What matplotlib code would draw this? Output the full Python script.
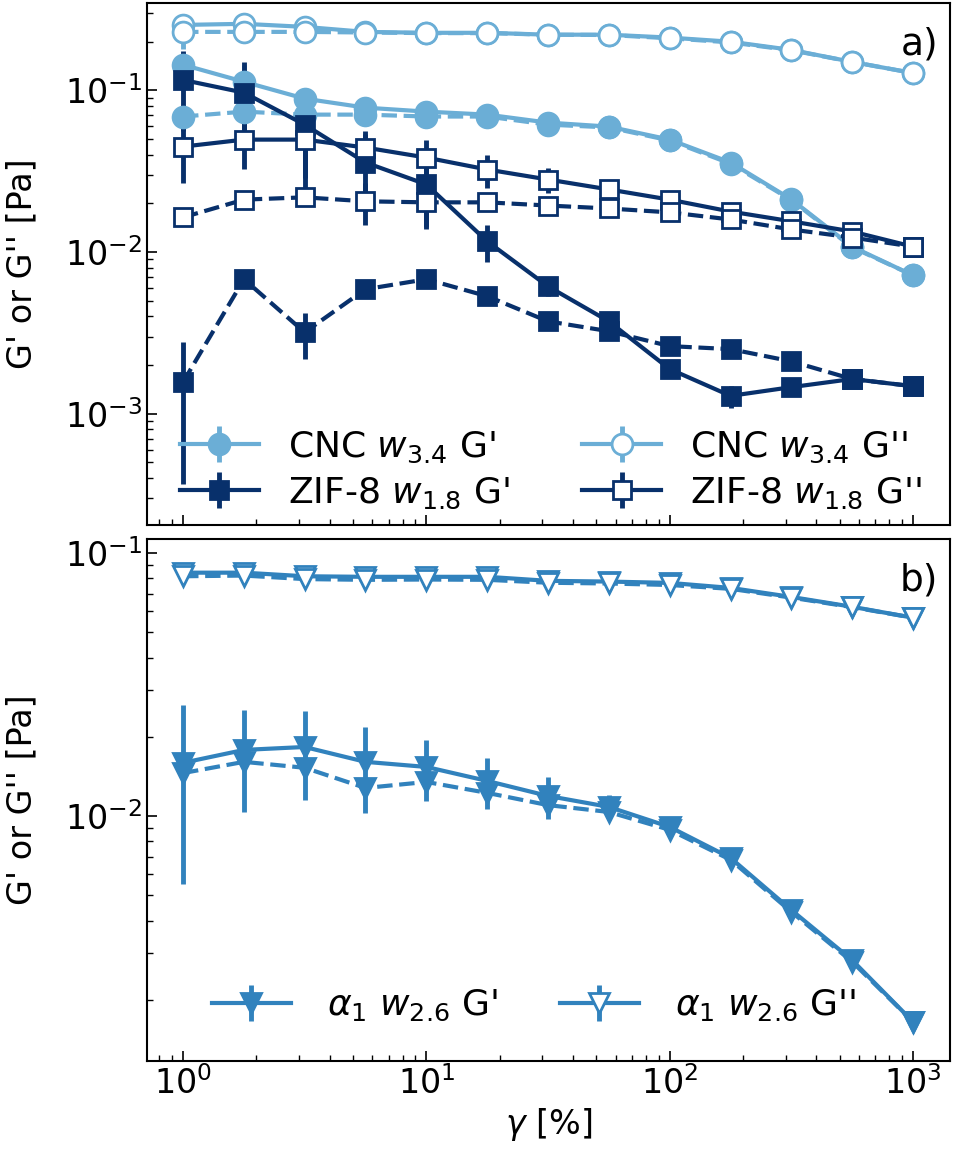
import numpy as np
import matplotlib.pyplot as plt

# strain amplitude [%]
gamma = [1, 1.78, 3.16, 5.62, 10, 17.8, 31.6, 56.2, 100, 178, 316, 562, 1000]

# panel a) CNC w3.4 (two runs: solid, dashed)
cnc_gp_1 = [0.144, 0.113, 0.0889, 0.0782, 0.0739, 0.0708, 0.0632, 0.0597, 0.0496, 0.0358, 0.0212, 0.0108, 0.00718]
cnc_gp_2 = [0.0689, 0.0739, 0.0708, 0.0708, 0.0689, 0.0689, 0.0614, 0.0590, 0.0490, 0.0352, 0.0210, 0.0107, 0.00718]
cnc_gpp_1 = [0.254, 0.258, 0.247, 0.230, 0.227, 0.227, 0.221, 0.221, 0.212, 0.200, 0.178, 0.150, 0.128]
cnc_gpp_2 = [0.230, 0.230, 0.230, 0.228, 0.226, 0.226, 0.221, 0.220, 0.210, 0.198, 0.177, 0.150, 0.128]
cnc_gp_1_err = [0.01, 0.03, 0.015, 0.006, 0.004, 0.003, 0.003, 0.002, 0.002, 0.002, 0.001, 0.0005, 0.0003]
cnc_gp_2_err = [0.005, 0.004, 0.004, 0.003, 0.003, 0.002, 0.002, 0.002, 0.002, 0.001, 0.001, 0.0005, 0.0003]
cnc_gpp_1_err = [0.01, 0.01, 0.008, 0.005, 0.005, 0.004, 0.004, 0.004, 0.003, 0.003, 0.003, 0.002, 0.002]
cnc_gpp_2_err = [0.05, 0.01, 0.008, 0.005, 0.005, 0.004, 0.004, 0.004, 0.003, 0.003, 0.003, 0.002, 0.002]

# panel a) ZIF-8 w1.8
zif_gp_1 = [0.116, 0.0968, 0.0614, 0.0358, 0.0262, 0.01164, 0.00614, 0.00373, 0.00189, 0.00129, 0.00146, 0.00164, 0.00148]
zif_gp_2 = [0.00157, 0.00679, 0.00319, 0.00589, 0.00679, 0.00533, 0.00373, 0.00324, 0.00262, 0.00251, 0.00211, 0.00164, 0.00148]
zif_gpp_1 = [0.0449, 0.0496, 0.0496, 0.0443, 0.0384, 0.0324, 0.0281, 0.0244, 0.0211, 0.0178, 0.0155, 0.0134, 0.0108]
zif_gpp_2 = [0.0164, 0.0211, 0.0218, 0.0206, 0.0203, 0.0203, 0.0194, 0.0186, 0.0176, 0.0159, 0.0138, 0.0123, 0.0108]
zif_gp_1_err = [0.06, 0.053, 0.04, 0.018, 0.012, 0.003, 0.0008, 0.0005, 0.0002, 0.0002, 0.0001, 0.0001, 0.0001]
zif_gp_2_err = [0.0012, 0.0004, 0.001, 0.0004, 0.0004, 0.0003, 0.0004, 0.0003, 0.0002, 0.0002, 0.0002, 0.0001, 0.0001]
zif_gpp_1_err = [0.018, 0.017, 0.021, 0.012, 0.011, 0.0075, 0.005, 0.002, 0.0015, 0.001, 0.001, 0.0008, 0.0005]
zif_gpp_2_err = [0.002, 0.002, 0.002, 0.006, 0.0065, 0.002, 0.002, 0.0015, 0.001, 0.001, 0.001, 0.0008, 0.0005]

# panel b) alpha1 w2.6
a1_gp_1 = [0.01592, 0.01782, 0.01828, 0.01605, 0.01535, 0.01358, 0.01191, 0.01082, 0.00908, 0.00692, 0.00439, 0.00283, 0.00165]
a1_gp_2 = [0.01455, 0.01605, 0.01524, 0.01277, 0.01346, 0.01223, 0.01099, 0.01035, 0.00885, 0.00681, 0.00432, 0.00279, 0.00165]
a1_gpp_1 = [0.0841, 0.0841, 0.0815, 0.0811, 0.0811, 0.0811, 0.0783, 0.0778, 0.0769, 0.0736, 0.0680, 0.0624, 0.0567]
a1_gpp_2 = [0.0815, 0.0820, 0.0795, 0.0790, 0.0792, 0.0790, 0.0770, 0.0765, 0.0755, 0.0730, 0.0676, 0.0622, 0.0567]
a1_gp_1_err = [0.0104, 0.0075, 0.0068, 0.0058, 0.0040, 0.0030, 0.0022, 0.0012, 0.0006, 0.0003, 0.0002, 0.0001, 0.0001]
a1_gpp_1_err = [0.004, 0.004, 0.003, 0.003, 0.003, 0.003, 0.002, 0.002, 0.002, 0.002, 0.001, 0.001, 0.001]

c_cnc = '#6baed6'
c_zif = '#08306b'
c_a1 = '#3182bd'

plt.rcParams['font.size'] = 24
plt.rcParams['mathtext.fontset'] = 'dejavusans'

fig = plt.figure(figsize=(9.56, 11.59), dpi=100)
ax1 = fig.add_axes([0.1538, 0.547, 0.8399, 0.4504])
ax2 = fig.add_axes([0.1538, 0.0846, 0.8399, 0.4504])

lw = 3
ms = 15

def series(ax, y, err, color, marker, filled, ls, size=ms):
    return ax.errorbar(gamma, y, yerr=err, color=color, marker=marker, ls=ls, lw=lw,
                       ms=size, mfc=color if filled else 'white', mec=color, mew=2,
                       elinewidth=3.5, capsize=0)

# panel a
h1 = series(ax1, cnc_gp_1, cnc_gp_1_err, c_cnc, 'o', True, '-')
series(ax1, cnc_gp_2, cnc_gp_2_err, c_cnc, 'o', True, '--')
h2 = series(ax1, cnc_gpp_1, cnc_gpp_1_err, c_cnc, 'o', False, '-')
series(ax1, cnc_gpp_2, cnc_gpp_2_err, c_cnc, 'o', False, '--')
h3 = series(ax1, zif_gp_1, zif_gp_1_err, c_zif, 's', True, '-', 13)
series(ax1, zif_gp_2, zif_gp_2_err, c_zif, 's', True, '--', 13)
h4 = series(ax1, zif_gpp_1, zif_gpp_1_err, c_zif, 's', False, '-', 13)
series(ax1, zif_gpp_2, zif_gpp_2_err, c_zif, 's', False, '--', 13)

ax1.legend([h1, h3, h2, h4],
           ["CNC $w_{3.4}$ G'", "ZIF-8 $w_{1.8}$ G'", "CNC $w_{3.4}$ G''", "ZIF-8 $w_{1.8}$ G''"],
           ncol=2, loc='lower left', bbox_to_anchor=(0.0, -0.035), frameon=False,
           handlelength=2.2, columnspacing=2.0, handletextpad=0.8, labelspacing=0.3,
           fontsize=26)
ax1.text(0.985, 0.955, 'a)', transform=ax1.transAxes, ha='right', va='top', fontsize=27)

# panel b
h5 = series(ax2, a1_gp_1, a1_gp_1_err, c_a1, 'v', True, '-')
series(ax2, a1_gp_2, None, c_a1, 'v', True, '--')
h6 = series(ax2, a1_gpp_1, a1_gpp_1_err, c_a1, 'v', False, '-')
series(ax2, a1_gpp_2, None, c_a1, 'v', False, '--')

ax2.legend([h5, h6], [r"$\alpha_1$ $w_{2.6}$ G'", r"$\alpha_1$ $w_{2.6}$ G''"],
           ncol=2, loc='lower left', bbox_to_anchor=(0.04, 0.01), frameon=False,
           handlelength=2.2, columnspacing=1.7, handletextpad=1.0, fontsize=26)
ax2.text(0.985, 0.955, 'b)', transform=ax2.transAxes, ha='right', va='top', fontsize=27)

for ax in (ax1, ax2):
    ax.set_xscale('log')
    ax.set_yscale('log')
    ax.set_xlim(0.711, 1420)
    ax.tick_params(which='both', direction='in', top=False, right=False)
    ax.tick_params(which='major', length=7, width=1.2)
    ax.tick_params(which='minor', length=4, width=1)
    ax.set_ylabel("G' or G'' [Pa]", fontsize=24)
    ax.yaxis.set_label_coords(-0.135, 0.5)
    for s in ax.spines.values():
        s.set_linewidth(1.5)

ax1.set_ylim(2.05e-4, 0.347)
ax2.set_ylim(1.17e-3, 0.113)
ax1.tick_params(labelbottom=False)
ax2.set_xlabel(r'$\gamma$ [%]', fontsize=24)

fig.savefig('out.png', dpi=100)
